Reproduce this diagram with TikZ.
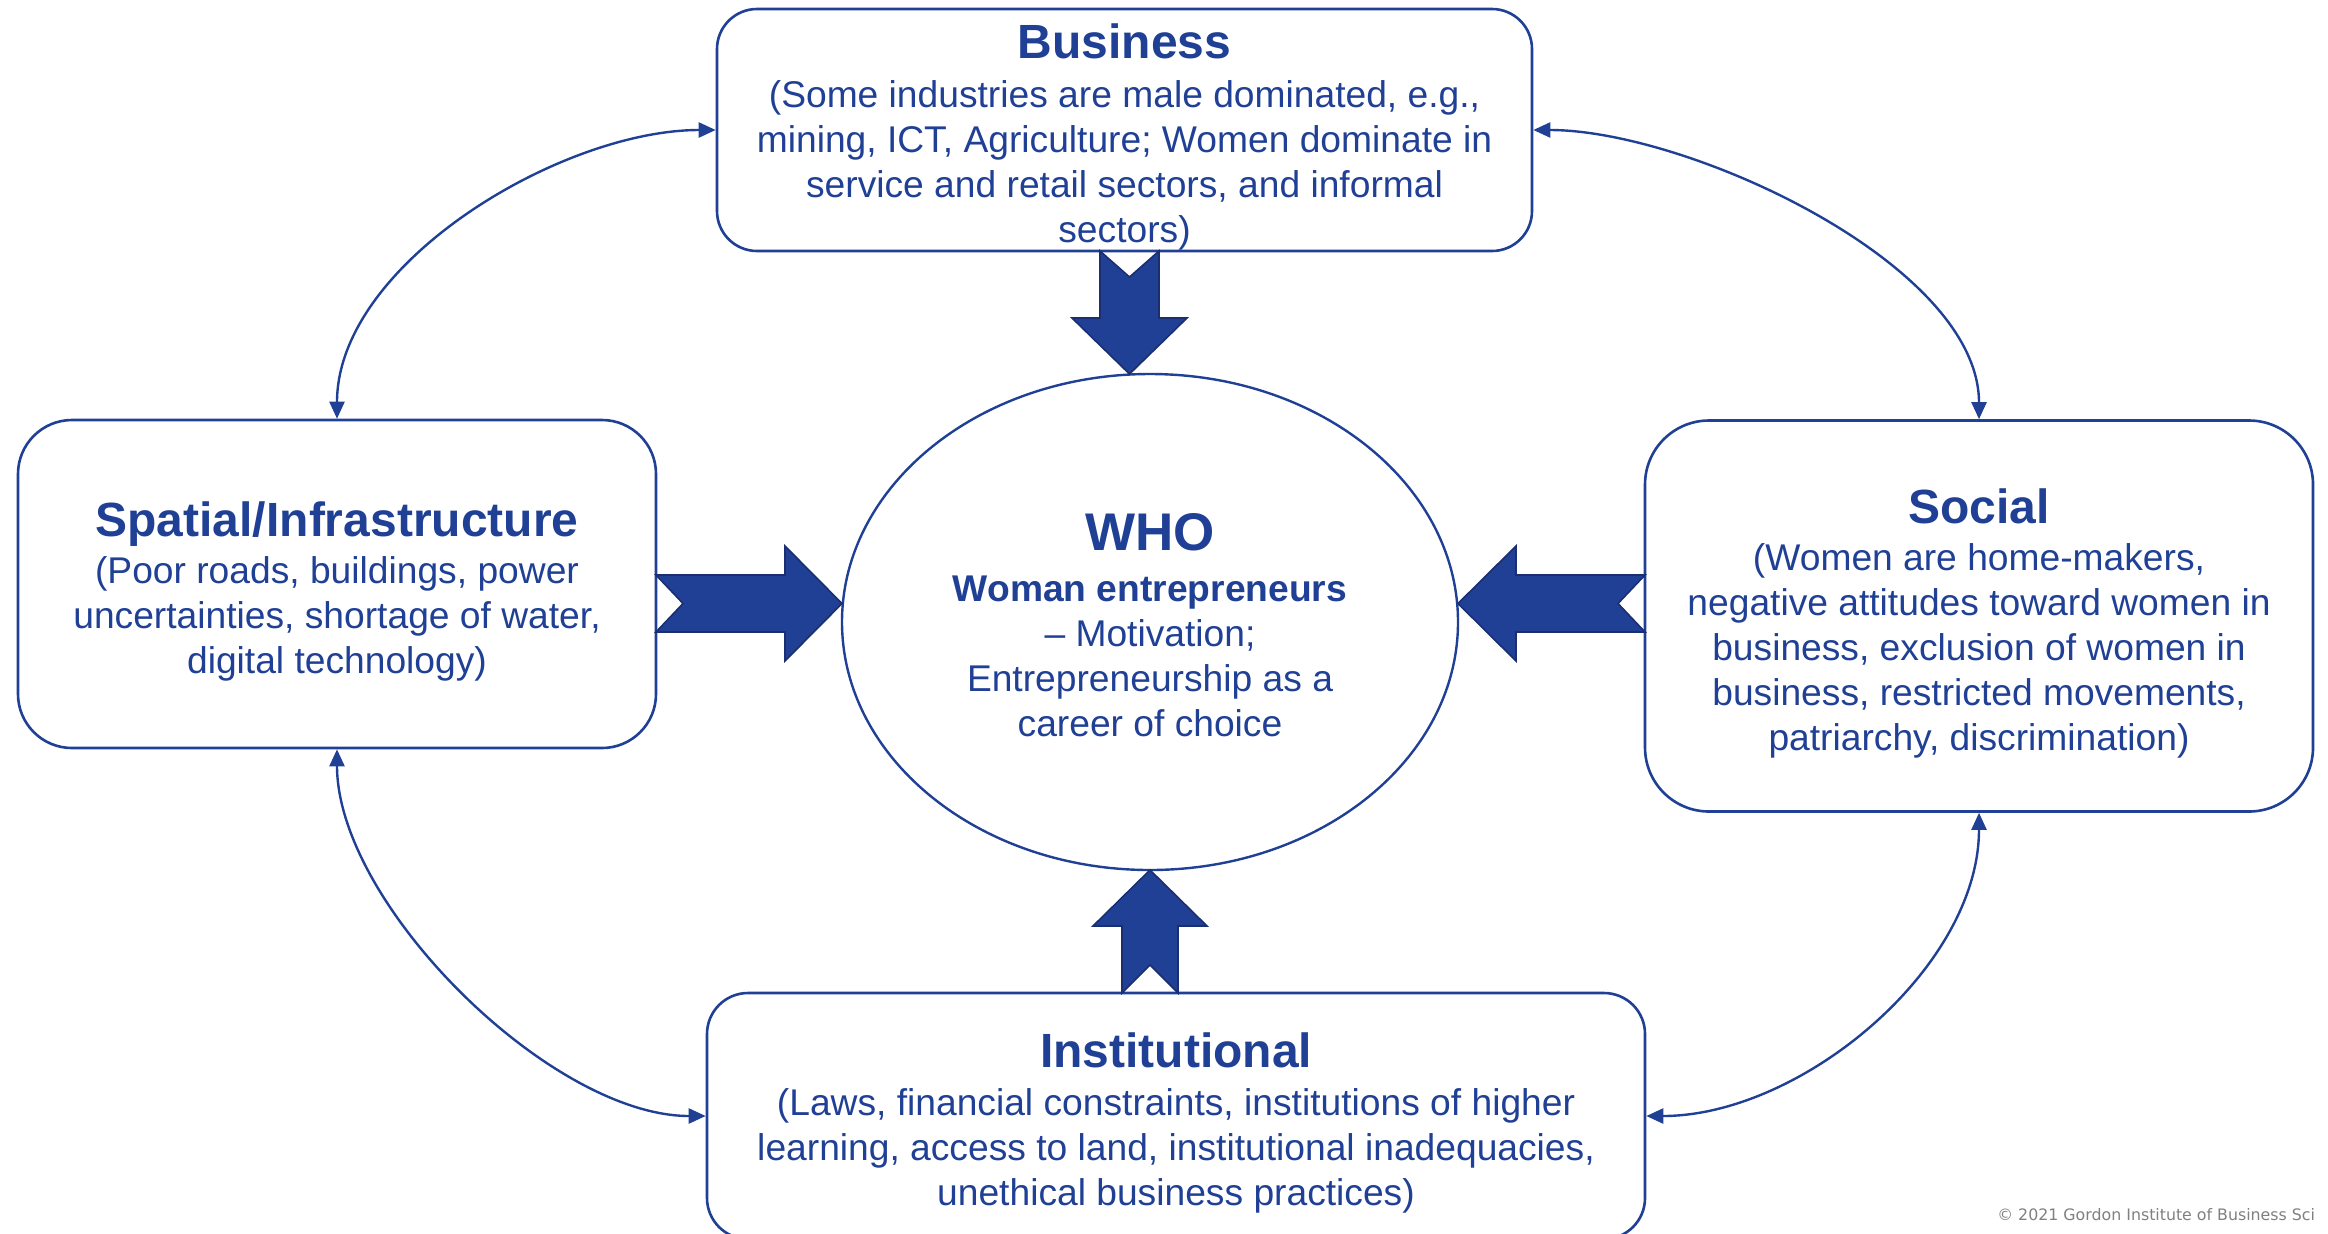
\documentclass[tikz,border=0pt]{standalone}
\usepackage{fontspec}
\setmainfont{Liberation Sans}
\newfontfamily\cpfont{DejaVu Sans}
\usetikzlibrary{shapes.geometric,arrows.meta,calc}
\definecolor{mainblue}{RGB}{32,64,150}
\definecolor{edgeblue}{RGB}{26,46,112}
\definecolor{cpgrey}{RGB}{128,128,128}
\newcommand\bodyfnt{\fontsize{18.6}{22.5}\selectfont}
\newcommand\ttl[1]{{\fontsize{24}{28}\selectfont\bfseries #1}}
\begin{document}
\begin{tikzpicture}[x=0.5pt,y=-0.5pt,
  box/.style={draw=mainblue, line width=1.3pt, fill=white, inner sep=0pt},
  txt/.style={text=mainblue, align=center, inner sep=0pt, font=\bodyfnt},
  blockarrow/.style={fill=mainblue, draw=edgeblue, line width=0.8pt, line join=miter},
  conn/.style={draw=mainblue, line width=1.2pt,
    {Triangle[length=8.5pt,width=7.5pt]}-{Triangle[length=8.5pt,width=7.5pt]}}]
\useasboundingbox (0,0) rectangle (2328,1233);
\clip (0,0) rectangle (2328,1233);

% boxes
\node[box, minimum width=407.5pt, minimum height=121pt, rounded corners=20pt] (bus) at (1124.5,130) {};
\node[box, minimum width=319pt, minimum height=164pt, rounded corners=27pt] (spa) at (337,584) {};
\node[box, minimum width=334pt, minimum height=195.5pt, rounded corners=32pt] (soc) at (1979,616) {};
\node[box, minimum width=469pt, minimum height=123pt, rounded corners=20.5pt] (inst) at (1176,1116) {};
\node[box, ellipse, line width=1.2pt, minimum width=308pt, minimum height=248pt] (who) at (1150,622) {};

% texts
\node[txt] (bus-t) at ($(bus.center)+(0,7)$)
 {\ttl{Business}\\[2pt]
  (Some industries are male dominated, e.g.,\\
  mining, ICT, Agriculture; Women dominate in\\
  service and retail sectors, and informal\\
  sectors)};
\node[txt] (spa-t) at ($(spa.center)+(0,7)$)
 {\ttl{Spatial/Infrastructure}\\[1pt]
  (Poor roads, buildings, power\\
  uncertainties, shortage of water,\\
  digital technology)};
\node[txt] (soc-t) at ($(soc.center)+(0,7)$)
 {\ttl{Social}\\[1pt]
  (Women are home-makers,\\
  negative attitudes toward women in\\
  business, exclusion of women in\\
  business, restricted movements,\\
  patriarchy, discrimination)};
\node[txt] (inst-t) at ($(inst.center)+(0,7)$)
 {\ttl{Institutional}\\[1.5pt]
  (Laws, financial constraints, institutions of higher\\
  learning, access to land, institutional inadequacies,\\
  unethical business practices)};
\node[txt] (who-t) at ($(who.center)+(0,3)$)
 {{\fontsize{26.5}{30}\selectfont\bfseries WHO}\\[2.7pt]
  \textbf{Woman entrepreneurs}\\
  – Motivation;\\
  Entrepreneurship as a\\
  career of choice};

% curved connectors
\draw[conn] (spa.north) .. controls ($(spa.north)+(0,-155)$) and ($(bus.west)+(-155,0)$) .. (bus.west);
\draw[conn] (soc.north) .. controls ($(soc.north)+(0,-155)$) and ($(bus.east)+(155,0)$) .. (bus.east);
\draw[conn] (spa.south) .. controls ($(spa.south)+(0,155)$) and ($(inst.west)+(-155,0)$) .. (inst.west);
\draw[conn] (soc.south) .. controls ($(soc.south)+(0,155)$) and ($(inst.east)+(155,0)$) .. (inst.east);

% block arrows
\path[blockarrow] (1100,251) -- (1129.5,277) -- (1159,251) -- (1159,318) -- (1187,318)
  -- (1129.5,374) -- (1072,318) -- (1100,318) -- cycle;
\path[blockarrow] (1122,993) -- (1150,965) -- (1178,993) -- (1178,926) -- (1207,926)
  -- (1150,870) -- (1093,926) -- (1122,926) -- cycle;
\path[blockarrow] (656,575) -- (683,603.5) -- (656,632) -- (785,632) -- (785,661)
  -- (842,603.5) -- (785,546) -- (785,575) -- cycle;
\path[blockarrow] (1645,575) -- (1618,603.5) -- (1645,632) -- (1516,632) -- (1516,661)
  -- (1458,603.5) -- (1516,546) -- (1516,575) -- cycle;

% copyright
\node[anchor=base west, text=cpgrey, inner sep=0pt, font=\cpfont\fontsize{7.9}{10}\selectfont] (copy)
  at (1997,1220) {© 2021 Gordon Institute of Business Sci};
\end{tikzpicture}
\end{document}
